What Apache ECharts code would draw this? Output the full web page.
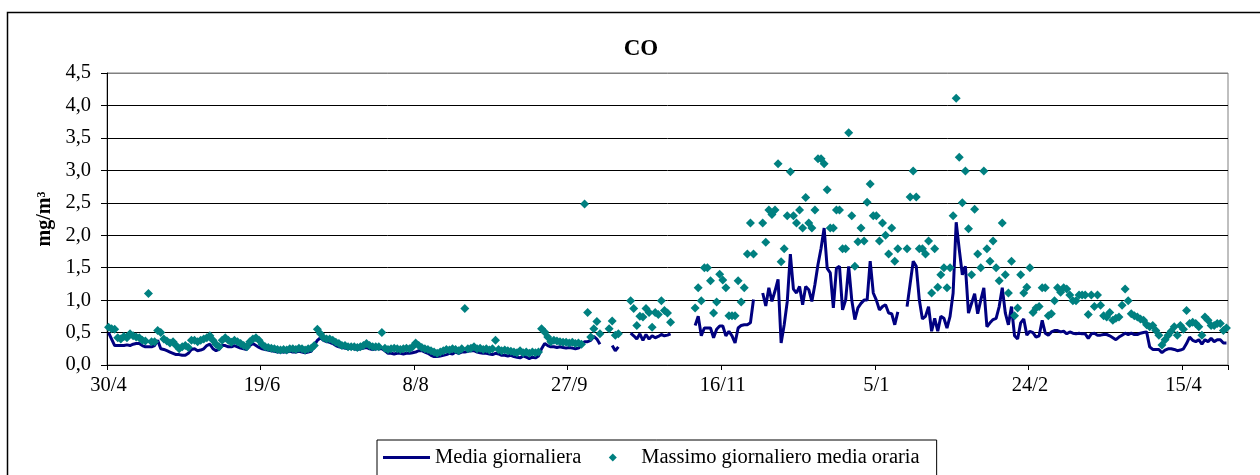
<!DOCTYPE html>
<html>
<head>
<meta charset="utf-8">
<title>CO</title>
<script src="https://cdn.jsdelivr.net/npm/echarts@6/dist/echarts.min.js"></script>
<style>
  html, body { margin: 0; padding: 0; background: #fff; }
  #chart { width: 1260px; height: 475px; }
</style>
</head>
<body>
<div id="chart"></div>
<script>
// Daily CO series, one value per day from 30/4 to 29/4 of the following year (mg/m3).
// null = no valid data for that day.
const startDay = { year: 2005, month: 4, day: 30 };
const dayCount = 365;

const seriesNames = ['Media giornaliera', 'Massimo giornaliero media oraria'];

// Daily mean
const dailyMean = [
  0.50, 0.40, 0.30, 0.30, 0.30, 0.30, 0.31, 0.30, 0.32, 0.33,
  0.33, 0.30, 0.28, 0.28, 0.28, 0.30, 0.38, 0.25, 0.24, 0.22,
  0.20, 0.18, 0.16, 0.16, 0.15, 0.15, 0.18, 0.24, 0.25, 0.22,
  0.23, 0.25, 0.30, 0.32, 0.25, 0.22, 0.24, 0.30, 0.30, 0.28,
  0.28, 0.30, 0.28, 0.26, 0.25, 0.24, 0.30, 0.33, 0.30, 0.27,
  0.25, 0.24, 0.23, 0.22, 0.21, 0.20, 0.20, 0.20, 0.20, 0.21,
  0.20, 0.20, 0.21, 0.20, 0.19, 0.20, 0.21, 0.30, 0.38, 0.42,
  0.38, 0.36, 0.35, 0.33, 0.30, 0.28, 0.27, 0.26, 0.25, 0.26,
  0.25, 0.24, 0.25, 0.26, 0.27, 0.25, 0.24, 0.25, 0.25, 0.25,
  0.22, 0.18, 0.18, 0.17, 0.18, 0.18, 0.17, 0.18, 0.18, 0.19,
  0.20, 0.22, 0.22, 0.20, 0.18, 0.15, 0.13, 0.13, 0.14, 0.15,
  0.16, 0.18, 0.17, 0.20, 0.18, 0.20, 0.20, 0.21, 0.22, 0.22,
  0.20, 0.19, 0.18, 0.18, 0.17, 0.16, 0.18, 0.17, 0.15, 0.15,
  0.14, 0.15, 0.13, 0.12, 0.11, 0.14, 0.12, 0.10, 0.12, 0.11,
  0.14, 0.25, 0.33, 0.30, 0.28, 0.28, 0.27, 0.28, 0.27, 0.26,
  0.27, 0.26, 0.25, 0.26, 0.30, 0.36, 0.36, 0.38, 0.44, 0.40,
  0.32, null, null, null, 0.30, 0.22, 0.28, null, null, null,
  0.49, 0.45, 0.40, 0.48, 0.38, 0.47, 0.40, 0.45, 0.42, 0.44,
  0.47, 0.45, 0.46, 0.48, null, null, null, null, null, null,
  null, 0.61, 0.75, 0.45, 0.57, 0.57, 0.57, 0.42, 0.55, 0.60,
  0.60, 0.45, 0.52, 0.45, 0.34, 0.57, 0.61, 0.62, 0.62, 0.65,
  1.01, null, null, 1.11, 0.91, 1.19, 0.98, 1.14, 1.32, 0.34,
  0.62, 0.98, 1.71, 1.17, 1.11, 1.21, 0.93, 1.21, 1.16, 0.98,
  1.24, 1.55, 1.80, 2.11, 1.49, 1.42, 0.88, 1.49, 1.52, 0.85,
  1.00, 1.52, 1.00, 0.70, 0.88, 0.95, 1.00, 1.00, 1.60, 1.11,
  1.00, 0.85, 0.90, 0.93, 0.80, 0.79, 0.62, 0.82, null, null,
  0.90, 1.25, 1.60, 1.52, 1.00, 0.71, 0.75, 0.90, 0.52, 0.72,
  0.52, 0.75, 0.72, 0.57, 0.75, 1.11, 2.20, 1.78, 1.39, 1.52,
  0.80, 0.95, 1.10, 0.79, 1.00, 1.19, 0.59, 0.65, 0.70, 0.72,
  0.90, 1.19, 0.80, 0.62, 0.90, 0.45, 0.40, 0.65, 0.71, 0.46,
  0.52, 0.50, 0.43, 0.45, 0.69, 0.49, 0.46, 0.51, 0.53, 0.53,
  0.51, 0.52, 0.48, 0.51, 0.49, 0.48, 0.49, 0.48, 0.48, 0.41,
  0.48, 0.49, 0.46, 0.46, 0.47, 0.47, 0.45, 0.42, 0.39, 0.43,
  0.46, 0.49, 0.47, 0.49, 0.47, 0.47, 0.49, 0.50, 0.51, 0.28,
  0.24, 0.24, 0.24, 0.19, 0.23, 0.25, 0.25, 0.24, 0.22, 0.23,
  0.25, 0.33, 0.43, 0.38, 0.36, 0.39, 0.32, 0.39, 0.36, 0.41,
  0.36, 0.39, 0.39, 0.34, 0.34
];

// Daily maximum of the hourly averages
const dailyMaxHourly = [
  0.58, 0.56, 0.55, 0.42, 0.40, 0.44, 0.42, 0.48, 0.45, 0.43,
  0.42, 0.38, 0.37, 1.10, 0.36, 0.36, 0.53, 0.50, 0.40, 0.37,
  0.34, 0.36, 0.30, 0.25, 0.28, 0.30, 0.27, 0.38, 0.38, 0.36,
  0.38, 0.40, 0.42, 0.45, 0.38, 0.32, 0.28, 0.38, 0.42, 0.38,
  0.35, 0.38, 0.36, 0.33, 0.30, 0.28, 0.36, 0.40, 0.42, 0.38,
  0.32, 0.28, 0.27, 0.26, 0.25, 0.24, 0.23, 0.24, 0.23, 0.25,
  0.25, 0.24, 0.26, 0.25, 0.23, 0.25, 0.26, 0.30, 0.55, 0.48,
  0.42, 0.40, 0.40, 0.38, 0.35, 0.33, 0.30, 0.30, 0.28, 0.28,
  0.28, 0.27, 0.28, 0.30, 0.33, 0.30, 0.28, 0.28, 0.28, 0.50,
  0.26, 0.24, 0.25, 0.26, 0.25, 0.24, 0.25, 0.26, 0.25, 0.28,
  0.34, 0.30, 0.27, 0.25, 0.24, 0.22, 0.20, 0.18, 0.20, 0.22,
  0.24, 0.23, 0.25, 0.24, 0.22, 0.25, 0.87, 0.25, 0.26, 0.28,
  0.25, 0.26, 0.24, 0.25, 0.23, 0.25, 0.38, 0.24, 0.22, 0.23,
  0.22, 0.21, 0.20, 0.19, 0.22, 0.19, 0.20, 0.18, 0.20, 0.19,
  0.20, 0.56, 0.51, 0.43, 0.36, 0.38, 0.37, 0.36, 0.35, 0.35,
  0.34, 0.35, 0.33, 0.34, 0.32, 2.48, 0.81, 0.43, 0.56, 0.67,
  0.48, null, null, 0.56, 0.68, 0.46, 0.48, null, null, null,
  0.99, 0.87, 0.61, 0.75, 0.74, 0.87, 0.81, 0.58, 0.81, 0.78,
  0.99, 0.84, 0.80, 0.66, null, null, null, null, null, null,
  null, 0.88, 1.19, 0.99, 1.50, 1.50, 1.30, 0.80, 0.97, 1.40,
  1.31, 1.19, 0.76, 0.76, 0.76, 1.30, 0.97, 1.19, 1.71, 2.19,
  1.71, null, null, 2.19, 1.89, 2.39, 2.32, 2.39, 3.10, 1.59,
  1.79, 2.30, 2.98, 2.30, 2.19, 2.39, 2.11, 2.58, 2.19, 2.11,
  2.39, 3.18, 3.18, 3.10, 2.70, 2.11, 2.11, 2.39, 2.39, 1.79,
  1.79, 3.58, 2.30, 1.52, 1.90, 2.11, 1.91, 2.51, 2.79, 2.30,
  2.30, 1.91, 2.19, 2.00, 1.71, 2.11, 1.60, 1.79, null, null,
  1.79, 2.59, 2.99, 2.59, 1.79, 1.79, 1.71, 1.91, 1.11, 1.79,
  1.20, 1.39, 1.50, 1.19, 1.50, 2.30, 4.11, 3.20, 2.50, 2.99,
  2.10, 1.39, 2.40, 1.71, 1.50, 2.99, 1.79, 1.60, 1.91, 1.50,
  1.30, 2.19, 1.39, 1.11, 1.60, 0.76, 0.88, 1.39, 1.11, 1.20,
  1.50, 0.81, 0.88, 0.90, 1.19, 1.19, 0.76, 0.79, 0.99, 1.19,
  1.12, 1.19, 1.17, 1.08, 0.99, 0.99, 1.08, 1.08, 1.08, 0.78,
  1.08, 0.90, 1.08, 0.92, 0.76, 0.74, 0.81, 0.69, 0.72, 0.74,
  0.92, 1.17, 0.99, 0.79, 0.76, 0.74, 0.71, 0.69, 0.62, 0.59,
  0.61, 0.53, 0.46, 0.31, 0.39, 0.46, 0.52, 0.59, 0.46, 0.61,
  0.55, 0.84, 0.64, 0.66, 0.64, 0.59, 0.46, 0.74, 0.69, 0.61,
  0.61, 0.64, 0.64, 0.53, 0.57
];

// Category labels "d/m", one per day
const days = [];
for (let i = 0; i < dayCount; i++) {
  const d = new Date(Date.UTC(startDay.year, startDay.month - 1, startDay.day + i));
  days.push(d.getUTCDate() + '/' + (d.getUTCMonth() + 1));
}

const FONT = '"Liberation Serif", "Times New Roman", serif';
const LABEL_STEP = 50;

// Legend keys: a short thick line, and a small diamond centred in a key-wide box
// (the two zero-area end points keep the icon's bounding box as wide as the line key).
const LINE_KEY = 'path://M0 0H47V3H0Z';
const DIAMOND_KEY = 'path://M0 4L0.01 4ZM23.5 0L27.5 4L23.5 8L19.5 4ZM47 4L46.99 4Z';

const chart = echarts.init(document.getElementById('chart'), null, { renderer: 'canvas' });

chart.setOption({
  animation: false,
  backgroundColor: '#ffffff',
  graphic: [{
    type: 'rect',
    silent: true,
    z: -10,
    shape: { x: 7.5, y: 12.5, width: 1400, height: 700 },
    style: { fill: 'transparent', stroke: '#000', lineWidth: 1.5 }
  }],
  title: {
    text: 'CO',
    left: 636,
    top: 33,
    textAlign: 'center',
    textStyle: { fontFamily: FONT, fontSize: 23, fontWeight: 'bold', color: '#000' }
  },
  legend: {
    left: 377,
    top: 440,
    orient: 'horizontal',
    padding: [7, 17, 9, 6],
    itemGap: 8,
    itemWidth: 47,
    itemHeight: 8,
    symbolKeepAspect: true,
    borderColor: '#000',
    borderWidth: 1,
    borderRadius: 0,
    textStyle: { fontFamily: FONT, fontSize: 20.5, color: '#000' },
    data: [
      { name: seriesNames[0], icon: LINE_KEY, itemStyle: { color: '#000080' } },
      { name: seriesNames[1], icon: DIAMOND_KEY, itemStyle: { color: '#008080' } }
    ]
  },
  grid: {
    left: 107,
    right: 32,
    top: 73,
    bottom: 110,
    show: true,
    borderColor: '#808080',
    borderWidth: 1,
    backgroundColor: 'transparent'
  },
  xAxis: {
    type: 'category',
    data: days,
    boundaryGap: true,
    axisLine: { lineStyle: { color: '#000', width: 1 } },
    axisTick: { show: true, interval: LABEL_STEP - 1, length: 5, lineStyle: { color: '#000' } },
    axisLabel: {
      interval: LABEL_STEP - 1,
      margin: 10,
      fontFamily: FONT,
      fontSize: 20.5,
      color: '#000'
    },
    splitLine: { show: false }
  },
  yAxis: {
    type: 'value',
    min: 0,
    max: 4.5,
    interval: 0.5,
    name: 'mg/m³',
    nameLocation: 'middle',
    nameGap: 50,
    nameRotate: 90,
    nameTextStyle: { fontFamily: FONT, fontSize: 20, fontWeight: 'bold', color: '#000' },
    axisLine: { show: true, lineStyle: { color: '#000', width: 1 } },
    axisTick: { show: true, inside: false, length: 6, lineStyle: { color: '#000' } },
    axisLabel: {
      margin: 16,
      fontFamily: FONT,
      fontSize: 20.5,
      color: '#000',
      formatter: v => v.toFixed(1).replace('.', ',')
    },
    splitLine: {
      show: true,
      lineStyle: {
        color: ['#000', '#000', '#000', '#000', '#000', '#000', '#000', '#000', '#000', '#808080'],
        width: 1
      }
    }
  },
  series: [
    {
      name: seriesNames[0],
      type: 'line',
      data: dailyMean,
      showSymbol: false,
      symbol: 'none',
      connectNulls: false,
      lineStyle: { color: '#000080', width: 3 },
      itemStyle: { color: '#000080' },
      z: 2
    },
    {
      name: seriesNames[1],
      type: 'scatter',
      data: dailyMaxHourly,
      symbol: 'diamond',
      symbolSize: 9,
      itemStyle: { color: '#008080', opacity: 1 },
      z: 3
    }
  ]
});
</script>
</body>
</html>
